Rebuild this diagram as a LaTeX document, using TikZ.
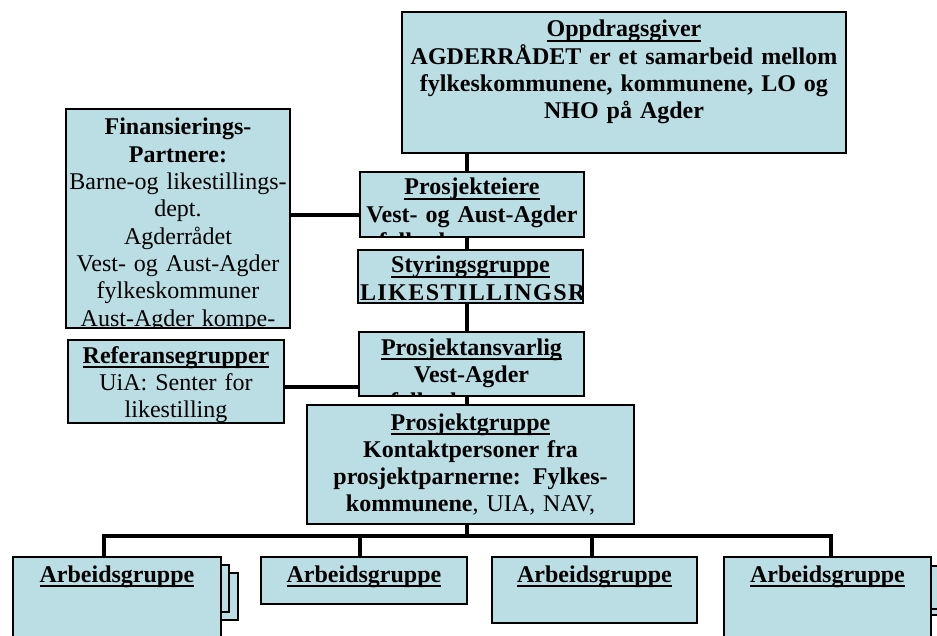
\documentclass[tikz,border=0pt]{standalone}
\usepackage{fontspec}
\setmainfont{Liberation Serif}
\definecolor{boxblue}{RGB}{186,222,228}
\pgfdeclarelayer{bg}
\pgfsetlayers{bg,main}
\newcommand\ttl[1]{\leavevmode\setbox0\hbox{#1}\rlap{\vrule height -2.6pt depth 5.2pt width \wd0}\box0}
\tikzset{
 orgbox/.style={draw=black, line width=1.6pt, fill=boxblue, rectangle, inner sep=0pt, outer sep=0pt},
 btext/.style={inner sep=0pt, outer sep=0pt, align=center, anchor=base, font=\fontsize{24}{27.3}\selectfont},
 conn/.style={line width=4.6pt, draw=black},
}
\begin{document}
\begin{tikzpicture}[x=1pt,y=-1pt]
\useasboundingbox (0,0) rectangle (937,636);
\clip (0,0) rectangle (937,636);
% boxes
\node[orgbox, minimum width=444pt, minimum height=141pt] (opp) at (624,82.5) {};
\node[orgbox, minimum width=224pt, minimum height=219pt] (fin) at (178,218.5) {};
\node[orgbox, minimum width=224pt, minimum height=65pt] (pe) at (472,204.5) {};
\node[orgbox, minimum width=225pt, minimum height=53pt] (sty) at (470.5,276.5) {};
\node[orgbox, minimum width=225pt, minimum height=64pt] (pa) at (471.5,364) {};
\node[orgbox, minimum width=216pt, minimum height=83pt] (ref) at (176,381.5) {};
\node[orgbox, minimum width=327pt, minimum height=119pt] (pg) at (470.5,464.5) {};
\draw[orgbox] (190,573) rectangle (238,620);
\draw[orgbox] (190,565) rectangle (229,612);
\node[orgbox, minimum width=208pt, minimum height=103pt] (ag1) at (117,608.5) {};
\node[orgbox, minimum width=206pt, minimum height=47pt] (ag2) at (364,580.5) {};
\node[orgbox, minimum width=205pt, minimum height=66pt] (ag3) at (594.5,590) {};
\draw[orgbox] (900,574) rectangle (948,615);
\draw[orgbox] (900,566) rectangle (939,609);
\node[orgbox, minimum width=207pt, minimum height=103pt] (ag4) at (827.5,608.5) {};
% texts
\begin{scope}
\clip ([shift={(0.8pt,0.8pt)}]opp.south west) rectangle ([shift={(-0.8pt,-0.8pt)}]opp.north east);
\node[btext, text width=440pt] (opptxt) at (624,37) {\bfseries\ttl{Oppdragsgiver}\\ AGDERRÅDET er et samarbeid mellom\\ fylkeskommunene, kommunene, LO og\\ NHO på Agder};
\end{scope}
\begin{scope}
\clip ([shift={(0.8pt,0.8pt)}]fin.south west) rectangle ([shift={(-0.8pt,-0.8pt)}]fin.north east);
\node[btext, text width=222pt] (fintxt) at (178,135) {\textbf{Finansierings-}\\ \textbf{Partnere:}\\ Barne-og likestillings-\\ dept.\\ Agderrådet\\ Vest- og Aust-Agder\\ fylkeskommuner\\ Aust-Agder kompe-};
\end{scope}
\begin{scope}
\clip ([shift={(0.8pt,0.8pt)}]pe.south west) rectangle ([shift={(-0.8pt,-0.8pt)}]pe.north east);
\node[btext, text width=222pt] (petxt) at (472,195) {\bfseries\ttl{Prosjekteiere}\\ Vest- og Aust-Agder\\ fylkeskommunene};
\end{scope}
\begin{scope}
\clip ([shift={(0.8pt,0.8pt)}]sty.south west) rectangle ([shift={(-0.8pt,-0.8pt)}]sty.north east);
\node[btext, text width=221pt] (stytxt) at (470.5,273) {\bfseries\ttl{Styringsgruppe}\\ \makebox[\linewidth][l]{\addfontfeature{LetterSpace=6}LIKESTILLINGSRÅDET}};
\end{scope}
\begin{scope}
\clip ([shift={(0.8pt,0.8pt)}]pa.south west) rectangle ([shift={(-0.8pt,-0.8pt)}]pa.north east);
\node[btext, text width=222pt] (patxt) at (471.5,355) {\bfseries\ttl{Prosjektansvarlig}\\ Vest-Agder\\ fylkeskommune};
\end{scope}
\begin{scope}
\clip ([shift={(0.8pt,0.8pt)}]ref.south west) rectangle ([shift={(-0.8pt,-0.8pt)}]ref.north east);
\node[btext, text width=214pt] (reftxt) at (176,363) {\textbf{\ttl{Referansegrupper}}\\ UiA: Senter for\\ likestilling};
\end{scope}
\begin{scope}
\clip ([shift={(0.8pt,0.8pt)}]pg.south west) rectangle ([shift={(-0.8pt,-0.8pt)}]pg.north east);
\node[btext, text width=323pt] (pgtxt) at (470.5,430) {\bfseries\ttl{Prosjektgruppe}\\ Kontaktpersoner fra\\ prosjektparnerne: Fylkes-\\ kommunene\mdseries, UIA, NAV,};
\end{scope}
\node[btext, text width=204pt] (ag1txt) at (117,582) {\bfseries\ttl{Arbeidsgruppe}};
\node[btext, text width=204pt] (ag2txt) at (364,582) {\bfseries\ttl{Arbeidsgruppe}};
\node[btext, text width=203pt] (ag3txt) at (594.5,582) {\bfseries\ttl{Arbeidsgruppe}};
\node[btext, text width=204pt] (ag4txt) at (827.5,582) {\bfseries\ttl{Arbeidsgruppe}};
% connectors
\begin{pgfonlayer}{bg}
\fill[white] (0,0) rectangle (937,636);
\coordinate (spine) at (467,0);
\coordinate (finy) at (0,215);
\coordinate (refy) at (0,387);
\coordinate (busL) at (104,536);
\coordinate (busR) at (831,536);
\coordinate (drop2) at (360,536);
\coordinate (drop3) at (592,536);
\draw[conn] (opp.south -| spine) -- (pg.north -| spine);
\draw[conn] (fin.east |- finy) -- (pe.west |- finy);
\draw[conn] (ref.east |- refy) -- (pa.west |- refy);
\draw[conn] (pg.south -| spine) -- (spine |- busL);
\draw[conn, line join=miter] (ag1.north -| busL) -- (busL) -- (busR) -- (ag4.north -| busR);
\draw[conn] (ag2.north -| drop2) -- (drop2);
\draw[conn] (ag3.north -| drop3) -- (drop3);
\end{pgfonlayer}
\end{tikzpicture}
\end{document}
